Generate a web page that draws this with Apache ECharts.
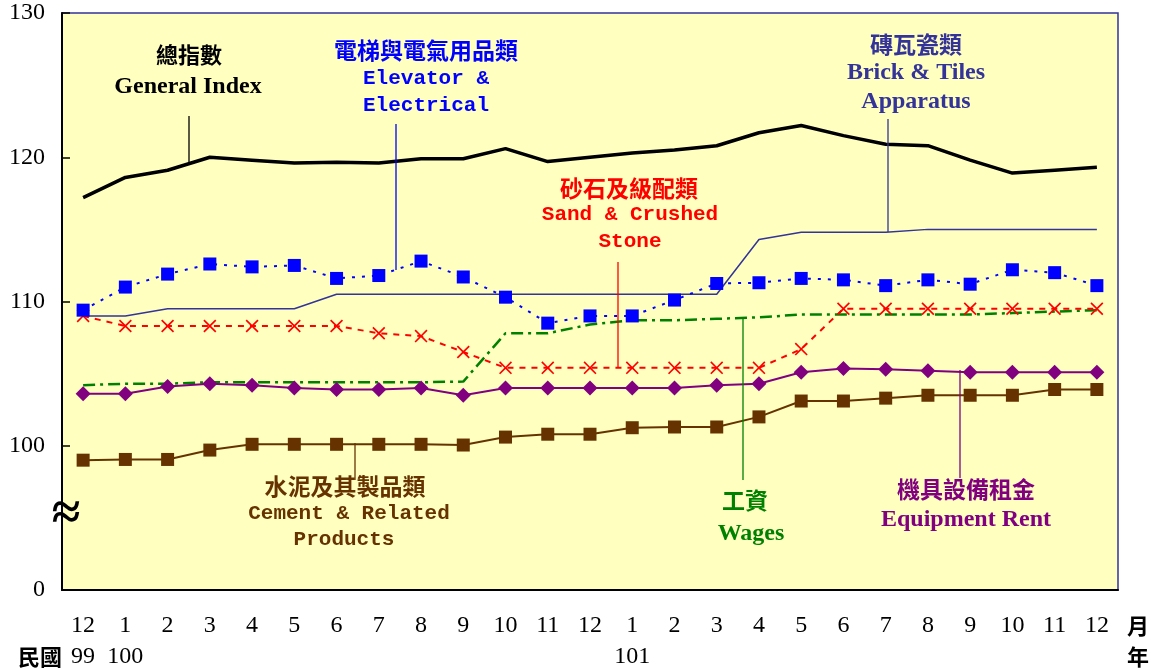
<!DOCTYPE html>
<html lang="zh-Hant">
<head>
<meta charset="UTF-8">
<title>營造工程物價指數</title>
<script src="https://cdn.jsdelivr.net/npm/echarts@6/dist/echarts.min.js"></script>
<style>
  html, body { margin: 0; padding: 0; background: #fff; }
  #chart { width: 1151px; height: 668px; }
</style>
</head>
<body>
<div id="chart"></div>
<script>
// 月份 / 年份 labels
var months = ['12','1','2','3','4','5','6','7','8','9','10','11','12',
              '1','2','3','4','5','6','7','8','9','10','11','12'];
var years = ['99','100','','','','','','','','','','','',
             '101','','','','','','','','','','',''];

// series values
var generalIndex = [117.2,118.6,119.1,120.0,119.8,119.6,119.65,119.6,119.9,119.9,120.6,119.7,120.0,
                    120.3,120.5,120.8,121.7,122.2,121.5,120.9,120.8,119.8,118.9,119.1,119.3];
var elevator = [109.4,111.0,111.9,112.6,112.4,112.5,111.6,111.8,112.8,111.7,110.3,108.5,109.0,
                109.0,110.1,111.25,111.3,111.6,111.5,111.1,111.5,111.2,112.2,112.0,111.1];
var brick = [109.0,109.0,109.5,109.5,109.5,109.5,110.5,110.5,110.5,110.5,110.5,110.5,110.5,
             110.5,110.5,110.5,114.3,114.8,114.8,114.8,115.0,115.0,115.0,115.0,115.0];
var sand = [109.0,108.3,108.3,108.3,108.3,108.3,108.3,107.8,107.6,106.5,105.4,105.4,105.4,
            105.4,105.4,105.4,105.4,106.7,109.5,109.5,109.5,109.5,109.5,109.5,109.5];
var wages = [104.2,104.3,104.3,104.4,104.4,104.4,104.4,104.4,104.4,104.45,107.8,107.8,108.4,
             108.7,108.7,108.8,108.9,109.1,109.1,109.1,109.1,109.1,109.2,109.3,109.4];
var equipment = [103.6,103.6,104.1,104.3,104.2,104.0,103.9,103.9,104.0,103.5,104.0,104.0,104.0,
                 104.0,104.0,104.2,104.3,105.1,105.35,105.3,105.2,105.1,105.1,105.1,105.1];
var cement = [99.0,99.05,99.05,99.7,100.1,100.1,100.1,100.1,100.1,100.05,100.6,100.8,100.8,
              101.25,101.3,101.3,102.0,103.1,103.1,103.3,103.5,103.5,103.5,103.9,103.9];

var xMark = 'path://M0,0.9L0.9,0L5,4.1L9.1,0L10,0.9L5.9,5L10,9.1L9.1,10L5,5.9L0.9,10L0,9.1L4.1,5Z';

var chart = echarts.init(document.getElementById('chart'));

var cjk = '"Noto Sans CJK TC", "Noto Sans CJK SC", sans-serif';
var serif = '"Liberation Serif", "Times New Roman", serif';
var mono = '"Liberation Mono", "DejaVu Sans Mono", monospace';

function txt(x, y, s, color, font, size) {
    return {
        type: 'text', x: x, y: y, z: 10,
        style: { text: s, fill: color, font: 'bold ' + size + 'px ' + font,
                 textAlign: 'center', textVerticalAlign: 'middle' }
    };
}
function lead(x, y1, y2, color) {
    return {
        type: 'line', z: 9,
        shape: { x1: x, y1: y1, x2: x, y2: y2 },
        style: { stroke: color, lineWidth: 1.3 }
    };
}

var graphics = [
    txt(189, 55, '總指數', '#000', cjk, 22),
    txt(188, 87, 'General Index', '#000', serif, 24),
    lead(189, 116, 163, '#000'),

    txt(426, 50, '電梯與電氣用品類', '#0000FF', cjk, 23),
    { type: 'text', x: 363, y: 79, z: 10, style: { text: 'Elevator &', fill: '#0000FF',
      font: 'bold 21px ' + mono, textAlign: 'left', textVerticalAlign: 'middle' } },
    { type: 'text', x: 363, y: 106, z: 10, style: { text: 'Electrical', fill: '#0000FF',
      font: 'bold 21px ' + mono, textAlign: 'left', textVerticalAlign: 'middle' } },
    lead(396, 124, 270, '#0000FF'),

    txt(629, 188, '砂石及級配類', '#FF0000', cjk, 23),
    txt(630, 215, 'Sand & Crushed', '#FF0000', mono, 21),
    txt(630, 242, 'Stone', '#FF0000', mono, 21),
    lead(618, 262, 367, '#FF0000'),

    txt(916, 44, '磚瓦瓷類', '#333399', cjk, 23),
    txt(916, 73, 'Brick & Tiles', '#333399', serif, 24),
    txt(916, 102, 'Apparatus', '#333399', serif, 24),
    lead(888, 119, 232, '#333399'),

    txt(345, 486, '水泥及其製品類', '#663300', cjk, 23),
    txt(349, 514, 'Cement & Related', '#663300', mono, 21),
    txt(344, 540, 'Products', '#663300', mono, 21),
    lead(355, 443, 480, '#663300'),

    txt(745, 500, '工資', '#008000', cjk, 23),
    txt(751, 534, 'Wages', '#008000', serif, 24),
    lead(743, 318, 480, '#008000'),

    txt(966, 489, '機具設備租金', '#800080', cjk, 23),
    txt(966, 520, 'Equipment Rent', '#800080', serif, 24),
    lead(960, 370, 478, '#800080'),

    // axis break mark and row titles
    { type: 'text', x: 66, y: 516, z: 11, style: { text: '≈', fill: '#000',
      font: 'bold 52px ' + serif, textAlign: 'center', textVerticalAlign: 'middle' } },
    txt(40, 657, '民國', '#000', cjk, 22),
    txt(1138, 626, '月', '#000', cjk, 22),
    txt(1138, 657, '年', '#000', cjk, 22)
];

var option = {
    backgroundColor: '#ffffff',
    animation: false,
    grid: {
        left: 62, right: 33, top: 13, bottom: 78,
        containLabel: false,
        outerBoundsMode: 'none',
        show: true, backgroundColor: '#FFFFC0',
        borderColor: '#333399', borderWidth: 1.5
    },
    xAxis: {
        type: 'category',
        data: months,
        boundaryGap: true,
        axisLine: { lineStyle: { color: '#000', width: 2 } },
        axisTick: { inside: true, length: 8, lineStyle: { color: '#000', width: 1.5 } },
        axisLabel: {
            interval: 0,
            margin: 20,
            color: '#000',
            fontFamily: serif,
            fontSize: 24,
            lineHeight: 31,
            formatter: function (v, i) {
                return years[i] ? v + '\n' + years[i] : v;
            }
        },
        splitLine: { show: false }
    },
    yAxis: {
        type: 'value',
        min: 90, max: 130, interval: 10,
        axisLine: { show: true, lineStyle: { color: '#000', width: 2 } },
        axisTick: { show: true, inside: true, length: 8, lineStyle: { color: '#000', width: 1.5 } },
        axisLabel: {
            margin: 17,
            color: '#000',
            fontFamily: serif,
            fontSize: 24,
            formatter: function (v) { return v === 90 ? '0' : String(v); }
        },
        splitLine: { show: false }
    },
    series: [
        {
            name: '總指數', type: 'line', data: generalIndex, z: 8,
            symbol: 'none',
            lineStyle: { color: '#000', width: 3.5 }
        },
        {
            name: '磚瓦瓷類', type: 'line', data: brick, z: 3,
            symbol: 'none',
            lineStyle: { color: '#333399', width: 1.5 }
        },
        {
            name: '電梯與電氣用品類', type: 'line', data: elevator, z: 6,
            symbol: 'rect', symbolSize: 13,
            itemStyle: { color: '#0000FF' },
            lineStyle: { color: '#0000FF', width: 2, type: [3, 7] }
        },
        {
            name: '砂石及級配類', type: 'line', data: sand, z: 5,
            symbol: xMark, symbolSize: 13,
            itemStyle: { color: '#FF0000' },
            lineStyle: { color: '#FF0000', width: 2, type: [6, 6] }
        },
        {
            name: '工資', type: 'line', data: wages, z: 4,
            symbol: 'none',
            lineStyle: { color: '#008000', width: 2.5, type: [12, 5, 3, 5] }
        },
        {
            name: '機具設備租金', type: 'line', data: equipment, z: 5,
            symbol: 'diamond', symbolSize: 15,
            itemStyle: { color: '#800080' },
            lineStyle: { color: '#800080', width: 2 }
        },
        {
            name: '水泥及其製品類', type: 'line', data: cement, z: 5,
            symbol: 'rect', symbolSize: 13,
            itemStyle: { color: '#663300' },
            lineStyle: { color: '#663300', width: 2 }
        }
    ],
    graphic: graphics
};

chart.setOption(option);
</script>
</body>
</html>
